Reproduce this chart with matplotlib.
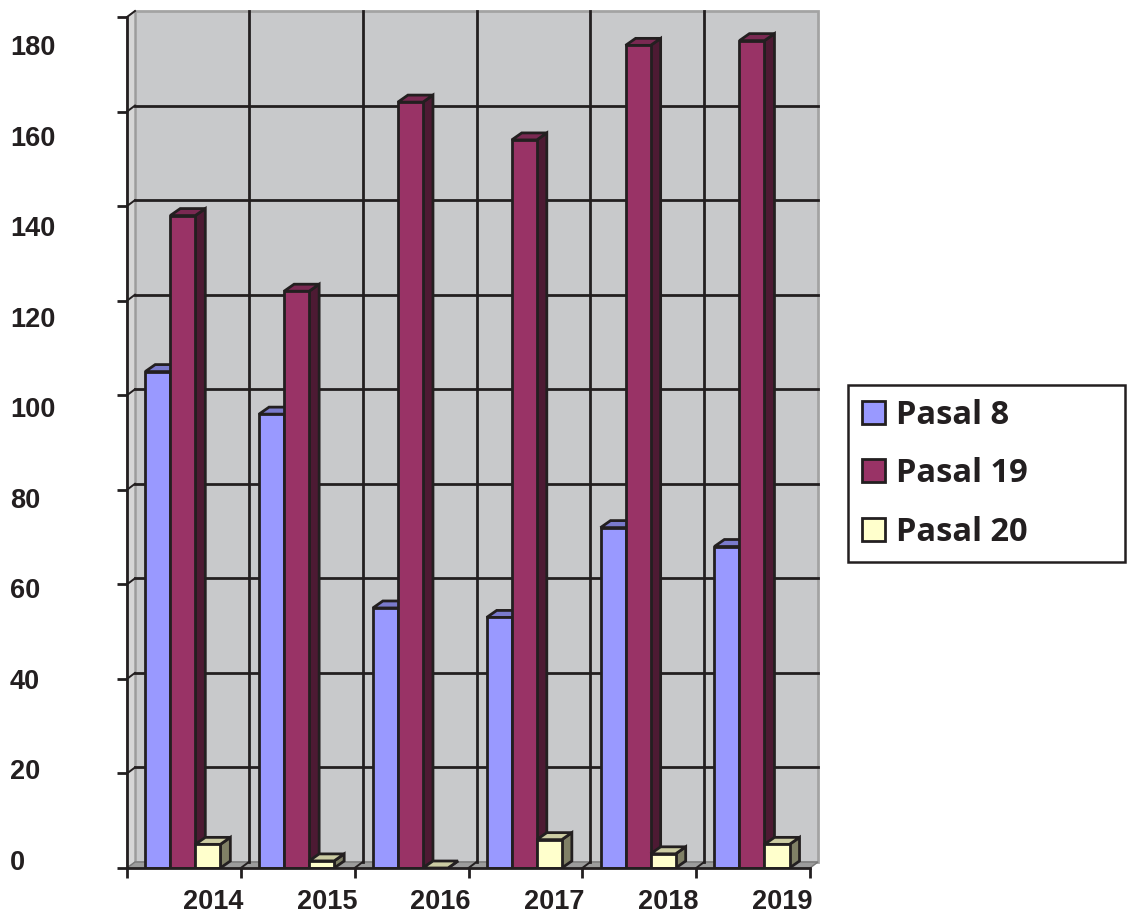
import matplotlib
matplotlib.use("Agg")
import matplotlib.pyplot as plt
import numpy as np
from matplotlib.patches import Polygon
from matplotlib.colors import to_rgb

years = ["2014", "2015", "2016", "2017", "2018", "2019"]
series_names = ["Pasal 8", "Pasal 19", "Pasal 20"]
pasal_8 = [105, 96, 55, 53, 72, 68]
pasal_19 = [138, 122, 162, 154, 174, 175]
pasal_20 = [5, 1.5, 0, 6, 3, 5]
colors = ["#9999ff", "#993366", "#ffffcc"]
y_ticks = list(range(0, 181, 20))

ink = "#231f20"

def shade(c, f):
    return tuple(np.array(to_rgb(c)) * f)

W, H = 1130, 918
fig = plt.figure(figsize=(W / 100, H / 100), dpi=100)

# front plane of the 3d box, in pixels
ax_l, ax_r, ax_b, ax_t = 127, 810, 868, 17
ax = fig.add_axes([ax_l / W, 1 - ax_b / H, (ax_r - ax_l) / W, (ax_b - ax_t) / H])
n = len(years)
ax.set_xlim(0, n)
ax.set_ylim(0, 180)
px_x = (ax_r - ax_l) / n
px_y = (ax_b - ax_t) / 180

wdx, wdy = 8 / px_x, 6 / px_y    # back wall shift
bdx, bdy = 10 / px_x, 7 / px_y   # bar depth

ax.patch.set_visible(False)
for s in ["top", "right"]:
    ax.spines[s].set_visible(False)
for s in ["left", "bottom"]:
    ax.spines[s].set_linewidth(2)
    ax.spines[s].set_color(ink)
    ax.spines[s].set_zorder(10)

# walls
ax.add_patch(Polygon([(wdx, wdy), (n + wdx, wdy), (n + wdx, 180 + wdy), (wdx, 180 + wdy)],
                     closed=True, fc="#c8c9cb", ec="#a3a3a3", lw=2, zorder=0, clip_on=False))
ax.add_patch(Polygon([(0, 0), (wdx, wdy), (wdx, 180 + wdy), (0, 180)],
                     closed=True, fc="#d6d6d6", ec="#9a9a9a", lw=1, zorder=0.5, clip_on=False))
ax.add_patch(Polygon([(0, 0), (n, 0), (n + wdx, wdy), (wdx, wdy)],
                     closed=True, fc="#9c9c9c", ec="#7a7a7a", lw=1, zorder=0.5, clip_on=False))

# gridlines on the back wall
for v in y_ticks[1:-1]:
    ax.plot([wdx, n + wdx], [v + wdy, v + wdy], color=ink, lw=2, zorder=1, clip_on=False)
for v in y_ticks[1:]:
    ax.plot([0, wdx], [v, v + wdy], color=ink, lw=1.4, zorder=1, clip_on=False)
for i in range(1, n):
    ax.plot([i + wdx, i + wdx], [wdy, 180 + wdy], color=ink, lw=2, zorder=1, clip_on=False)
    ax.plot([i, i + wdx], [0, wdy], color=ink, lw=1.4, zorder=1, clip_on=False)

# bars with top and side faces
bw = 0.22
handles = []
for k, (vals, col) in enumerate(zip([pasal_8, pasal_19, pasal_20], colors)):
    x0 = np.arange(n) + 0.16 + k * bw
    z = 3 + k
    for xl, v in zip(x0, vals):
        xr = xl + bw
        ax.add_patch(Polygon([(xr, 0), (xr + bdx, bdy), (xr + bdx, v + bdy), (xr, v)],
                             closed=True, fc=shade(col, 0.5), ec=ink, lw=2, zorder=z))
        ax.add_patch(Polygon([(xl, v), (xl + bdx, v + bdy), (xr + bdx, v + bdy), (xr, v)],
                             closed=True, fc=shade(col, 0.8), ec=ink, lw=2, zorder=z))
    b = ax.bar(x0, vals, width=bw, align="edge", color=col, edgecolor=ink, lw=2,
               zorder=z + 0.1, label=series_names[k])
    handles.append(b)

# axes ticks
ax.set_yticks(y_ticks)
ax.set_yticklabels([])
ax.tick_params(axis="y", length=7, width=2, color=ink)
ax.set_xticks(range(n + 1))
ax.set_xticklabels([])
ax.tick_params(axis="x", which="major", length=7, width=2, color=ink)
ax.set_xticks(np.arange(n) + 0.5 + 29 / px_x, minor=True)
ax.set_xticklabels(years, minor=True, fontsize=19.5, fontweight="bold",
                   family="Liberation Sans", color=ink)
ax.tick_params(axis="x", which="minor", length=0, pad=15)

# y labels sit on their own scale (left aligned, slightly compressed)
lab_top, lab_bot = 45, 860
s = (lab_bot - lab_top) / 180
ax2 = ax.twinx()
ax2.set_ylim(-(ax_b - lab_bot) / s, 180 + (lab_top - ax_t) / s)
ax2.yaxis.tick_left()
ax2.set_yticks(y_ticks)
ax2.set_yticklabels([str(v) for v in y_ticks], fontsize=19.5, fontweight="bold",
                    family="Liberation Sans", color=ink)
ax2.tick_params(axis="y", length=0, pad=(ax_l - 10) * 0.72)
for lbl in ax2.get_yticklabels():
    lbl.set_ha("left")
for sp in ax2.spines.values():
    sp.set_visible(False)
ax2.patch.set_visible(False)

leg = fig.legend(handles=handles, loc="upper left",
                 bbox_to_anchor=(848 / W, 0, 277 / W, 1 - 385 / H), mode="expand",
                 prop={"family": "Open Sans", "weight": "bold", "size": 23.5},
                 handlelength=0.7, handleheight=0.7, handletextpad=0.35,
                 labelspacing=0.78, borderpad=0.42, borderaxespad=0,
                 frameon=True, fancybox=False, framealpha=1)
leg.get_frame().set_edgecolor(ink)
leg.get_frame().set_linewidth(1.8)
for t in leg.get_texts():
    t.set_color(ink)

fig.savefig("out.png", dpi=100)
